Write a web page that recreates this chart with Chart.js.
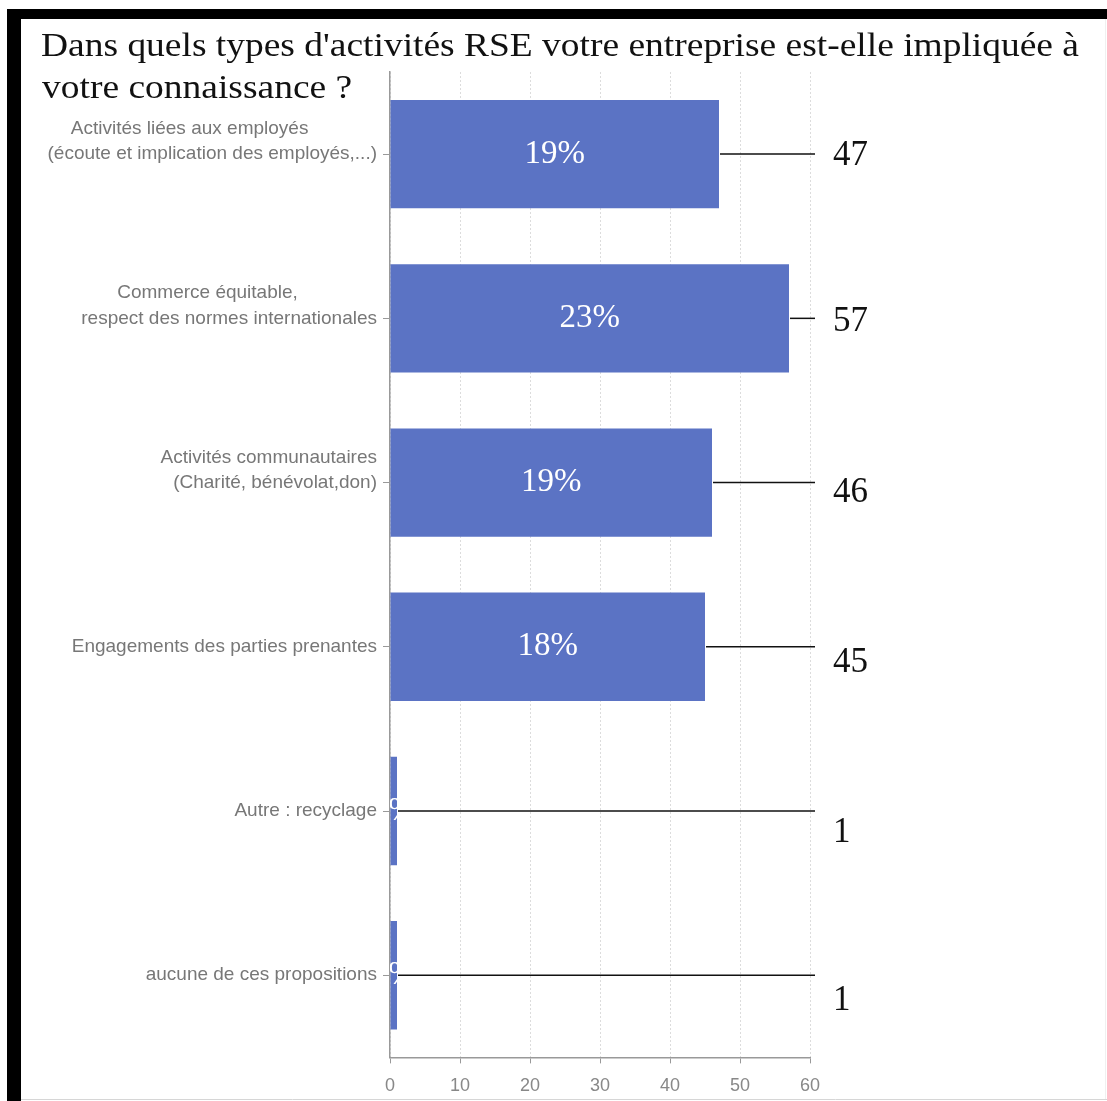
<!DOCTYPE html>
<html>
<head>
<meta charset="utf-8">
<script src="https://cdn.jsdelivr.net/npm/chart.js@4/dist/chart.umd.min.js"></script>
<style>
  html, body { margin: 0; padding: 0; background: #fff; }
  canvas { display: block; }
</style>
</head>
<body>
<canvas id="rseChart" width="1107" height="1101"></canvas>
<script>
const titleLines = [
  "Dans quels types d'activités RSE votre entreprise est-elle impliquée à",
  "votre connaissance ?",
];

// trailing blank line keeps the last text line on the tick
const categories = [
  ["Activités liées aux employés             ", "(écoute et implication des employés,...)", ""],
  ["Commerce équitable,               ", "respect des normes internationales", ""],
  ["Activités communautaires", "(Charité, bénévolat,don)", ""],
  "Engagements des parties prenantes",
  "Autre : recyclage",
  "aucune de ces propositions",
];
const counts = [47, 57, 46, 45, 1, 1];
const shares = ["19%", "23%", "19%", "18%", "0%", "0%"];
const xTicks = [0, 10, 20, 30, 40, 50, 60];

const BAR_COLOR = "#5b73c4";
const LABEL_GREY = "#777";
const SERIF = "'Liberation Serif', 'Times New Roman', serif";

// white page, black frame on top and left, title
const framePlugin = {
  id: "frame",
  beforeDraw(chart) {
    const c = chart.ctx;
    c.save();
    c.fillStyle = "#fff";
    c.fillRect(0, 0, chart.width, chart.height);
    c.fillStyle = "#000";
    c.fillRect(7, 9, chart.width - 7, 10);
    c.fillRect(7, 9, 14, chart.height - 9);
    c.strokeStyle = "#d6d6d6";
    c.lineWidth = 1;
    c.beginPath();
    c.moveTo(21, 1099.5);
    c.lineTo(chart.width, 1099.5);
    c.stroke();
    c.strokeStyle = "#f0f0f0";
    c.beginPath();
    c.moveTo(1105.5, 19);
    c.lineTo(1105.5, 1099);
    c.stroke();

    // title font runs a little wide, stretch it to the frame width
    c.fillStyle = "#111";
    c.font = "34px " + SERIF;
    c.textBaseline = "alphabetic";
    c.textAlign = "left";
    const stretch = 1038 / c.measureText(titleLines[0]).width;
    c.translate(41, 0);
    c.scale(stretch, 1);
    c.fillText(titleLines[0], 0, 56);
    c.fillText(titleLines[1], 1, 98);
    c.restore();
  },
};

// the count labels sit a bit lower on each row
const countShift = [2, 3, 10, 16, 22, 26];

// percentage inside each bar, count on the right with a leader line
const barLabels = {
  id: "barLabels",
  afterDatasetsDraw(chart) {
    const c = chart.ctx;
    const area = chart.chartArea;
    const meta = chart.getDatasetMeta(0);
    const lineEnd = area.right + 5;
    meta.data.forEach((bar, i) => {
      c.save();
      c.beginPath();
      c.rect(area.left, area.top, area.right - area.left, area.bottom - area.top);
      c.clip();
      c.fillStyle = "#fff";
      c.font = "33px " + SERIF;
      c.textAlign = "center";
      c.textBaseline = "middle";
      c.fillText(shares[i], (bar.base + bar.x) / 2, bar.y);
      c.restore();

      c.save();
      c.strokeStyle = "#111";
      c.lineWidth = 1.5;
      c.beginPath();
      c.moveTo(bar.x + 1, bar.y);
      c.lineTo(lineEnd, bar.y);
      c.stroke();

      c.fillStyle = "#111";
      c.font = "35px " + SERIF;
      c.textAlign = "left";
      c.textBaseline = "middle";
      c.fillText(String(counts[i]), lineEnd + 18, bar.y + countShift[i]);
      c.restore();
    });
  },
};

new Chart(document.getElementById("rseChart"), {
  type: "bar",
  data: {
    labels: categories,
    datasets: [{
      data: counts,
      backgroundColor: BAR_COLOR,
      borderWidth: 0,
      categoryPercentage: 1,
      barPercentage: 0.66,
    }],
  },
  options: {
    indexAxis: "y",
    responsive: false,
    animation: false,
    events: [],
    layout: { padding: { top: 72, right: 297, bottom: 0, left: 0 } },
    plugins: {
      legend: { display: false },
      tooltip: { enabled: false },
    },
    scales: {
      x: {
        min: 0,
        max: 60,
        afterBuildTicks(scale) {
          scale.ticks = xTicks.map(v => ({ value: v }));
        },
        afterFit(scale) { scale.height = 39; },
        grid: {
          color: "#dcdcdc",
          lineWidth: 1,
          tickLength: 6,
          tickColor: "#999",
          tickBorderDash: [],
        },
        border: { display: true, color: "#999", width: 1.5, dash: [2, 2] },
        ticks: {
          color: "#888",
          padding: 12,
          font: { family: "'Liberation Sans', Arial, sans-serif", size: 18 },
        },
      },
      y: {
        afterFit(scale) { scale.width = 390; },
        grid: {
          offset: false,
          drawOnChartArea: false,
          tickLength: 7,
          tickColor: "#999",
        },
        border: { display: true, color: "#999", width: 1.5 },
        ticks: {
          color: LABEL_GREY,
          padding: 6,
          autoSkip: false,
          font: { family: "'Liberation Sans', Arial, sans-serif", size: 19, lineHeight: 1.32 },
        },
      },
    },
  },
  plugins: [framePlugin, barLabels],
});
</script>
</body>
</html>
